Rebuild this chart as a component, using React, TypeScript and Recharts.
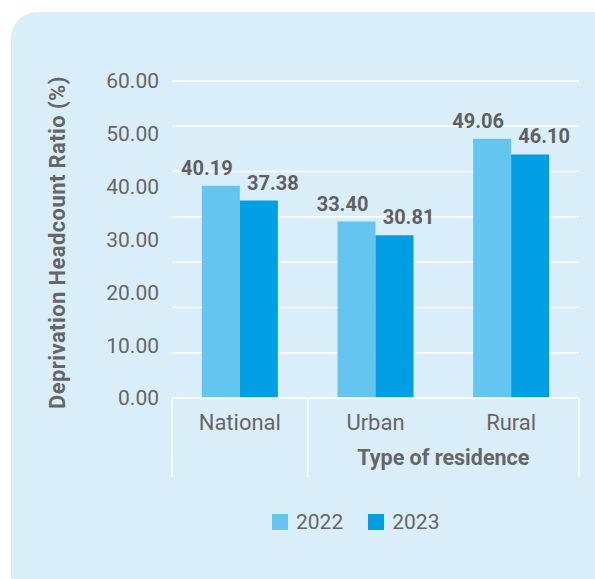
import React from 'react'
import { BarChart, Bar, XAxis, YAxis, CartesianGrid, LabelList } from 'recharts'

const categories = ['National', 'Urban', 'Rural']
const values2022 = [40.19, 33.4, 49.06]
const values2023 = [37.38, 30.81, 46.1]
const yTicks = [0, 10, 20, 30, 40, 50, 60]
const yMax = 60
const gridSteps = 7 // the source grid does not line up with the labelled ticks
const groupLabel = 'Type of residence'
const yLabel = 'Deprivation Headcount Ratio (%)'

const series = [
  { key: 'y2022', name: '2022', color: '#63c5f0', values: values2022, dx: -14 },
  { key: 'y2023', name: '2023', color: '#009fe3', values: values2023, dx: 14 },
]

const data = categories.map((c, i) => ({
  category: c,
  y2022: values2022[i],
  y2023: values2023[i],
}))

const TEXT = '#666666'
const FONT = 'Roboto, "Liberation Sans", Arial, sans-serif'
const BG = '#daeef9'

const W = 595
const H = 579
const MARGIN = { top: 81, right: 16, bottom: 101, left: 0 }
const Y_WIDTH = 172
const X_HEIGHT = 80

function CategoryTick(props: any) {
  const { x, y, payload, index } = props
  const half = payload?.offset || (W - Y_WIDTH - MARGIN.right) / categories.length / 2
  const lineTop = y
  const lineBottom = y + 79
  return (
    <g>
      {index === 0 && (
        <line x1={x - half} x2={x - half} y1={lineTop} y2={lineBottom} stroke="#ffffff" strokeWidth={1.5} />
      )}
      {index === 0 && (
        <line x1={x + half} x2={x + half} y1={lineTop} y2={lineBottom} stroke="#ffffff" strokeWidth={1.5} />
      )}
      {index === categories.length - 1 && (
        <line x1={x + half} x2={x + half} y1={lineTop} y2={lineBottom} stroke="#ffffff" strokeWidth={1.5} />
      )}
      <text x={x} y={y + 32} textAnchor="middle" fill={TEXT} fontSize={22} fontFamily={FONT}>
        {payload.value}
      </text>
      {index === 1 && (
        <text x={x + half} y={y + 67} textAnchor="middle" fill={TEXT} fontSize={21.5} fontWeight={700} fontFamily={FONT}>
          {groupLabel}
        </text>
      )}
    </g>
  )
}

function makeValueLabel(dx: number) {
  return (props: any) => {
    const { x, y, width, value } = props
    return (
      <text
        x={x + width / 2 + dx}
        y={y - 11}
        textAnchor="middle"
        fill="#606060"
        fontSize={20}
        fontWeight={700}
        fontFamily={FONT}
      >
        {Number(value).toFixed(2)}
      </text>
    )
  }
}

function YLabel(props: any) {
  const { viewBox } = props
  const cx = 57
  const cy = viewBox.y + viewBox.height / 2 + 3
  return (
    <text
      x={cx}
      y={cy}
      transform={`rotate(-90, ${cx}, ${cy})`}
      textAnchor="middle"
      dominantBaseline="central"
      fill={TEXT}
      fontSize={22}
      letterSpacing={0.4}
      fontWeight={700}
      fontFamily={FONT}
    >
      {yLabel}
    </text>
  )
}

function gridRows({ yAxis, offset }: any) {
  const rows: number[] = []
  for (let k = 1; k <= gridSteps; k++) {
    const v = (yMax * k) / gridSteps
    if (yAxis && typeof yAxis.scale === 'function') {
      rows.push(yAxis.scale(v))
    } else {
      rows.push(offset.top + offset.height * (1 - v / yMax))
    }
  }
  return rows
}

export default function App() {
  return (
    <div style={{ position: 'absolute', left: 0, top: 0, width: W, height: H, overflow: 'hidden', background: '#ffffff' }}>
      <div
        style={{
          position: 'absolute',
          left: 11,
          top: 12,
          width: 610,
          height: 590,
          borderRadius: 26,
          background: BG,
        }}
      />
      <div style={{ position: 'absolute', left: 0, top: 0 }}>
        <BarChart width={W} height={H} data={data} margin={MARGIN} barCategoryGap="22%" barGap={0}>
          <CartesianGrid
            vertical={false}
            stroke="#ffffff"
            strokeWidth={1.5}
            horizontalCoordinatesGenerator={gridRows}
          />
          <XAxis
            dataKey="category"
            height={X_HEIGHT}
            axisLine={{ stroke: '#ffffff', strokeWidth: 1.5 }}
            tickLine={false}
            tickSize={0}
            tickMargin={0}
            interval={0}
            tick={<CategoryTick />}
          />
          <YAxis
            domain={[0, yMax]}
            ticks={yTicks}
            width={Y_WIDTH}
            axisLine={false}
            tickLine={false}
            tickSize={0}
            tickMargin={13}
            tickFormatter={(v: number) => v.toFixed(2)}
            tick={{ fill: TEXT, fontSize: 21, fontFamily: FONT }}
            label={<YLabel />}
          />
          {series.map((s) => (
            <Bar key={s.key} dataKey={s.key} name={s.name} fill={s.color} isAnimationActive={false}>
              <LabelList dataKey={s.key} content={makeValueLabel(s.dx)} />
            </Bar>
          ))}
        </BarChart>
      </div>
      <div
        style={{
          position: 'absolute',
          left: 272,
          top: 509,
          display: 'flex',
          alignItems: 'center',
          fontFamily: FONT,
          fontSize: 21,
          lineHeight: '26px',
          color: TEXT,
        }}
      >
        {series.map((s, i) => (
          <div key={s.key} style={{ display: 'flex', alignItems: 'center', marginRight: i === 0 ? 25 : 0 }}>
            <span style={{ display: 'inline-block', width: 16, height: 16, background: s.color, marginRight: 8 }} />
            <span>{s.name}</span>
          </div>
        ))}
      </div>
    </div>
  )
}
